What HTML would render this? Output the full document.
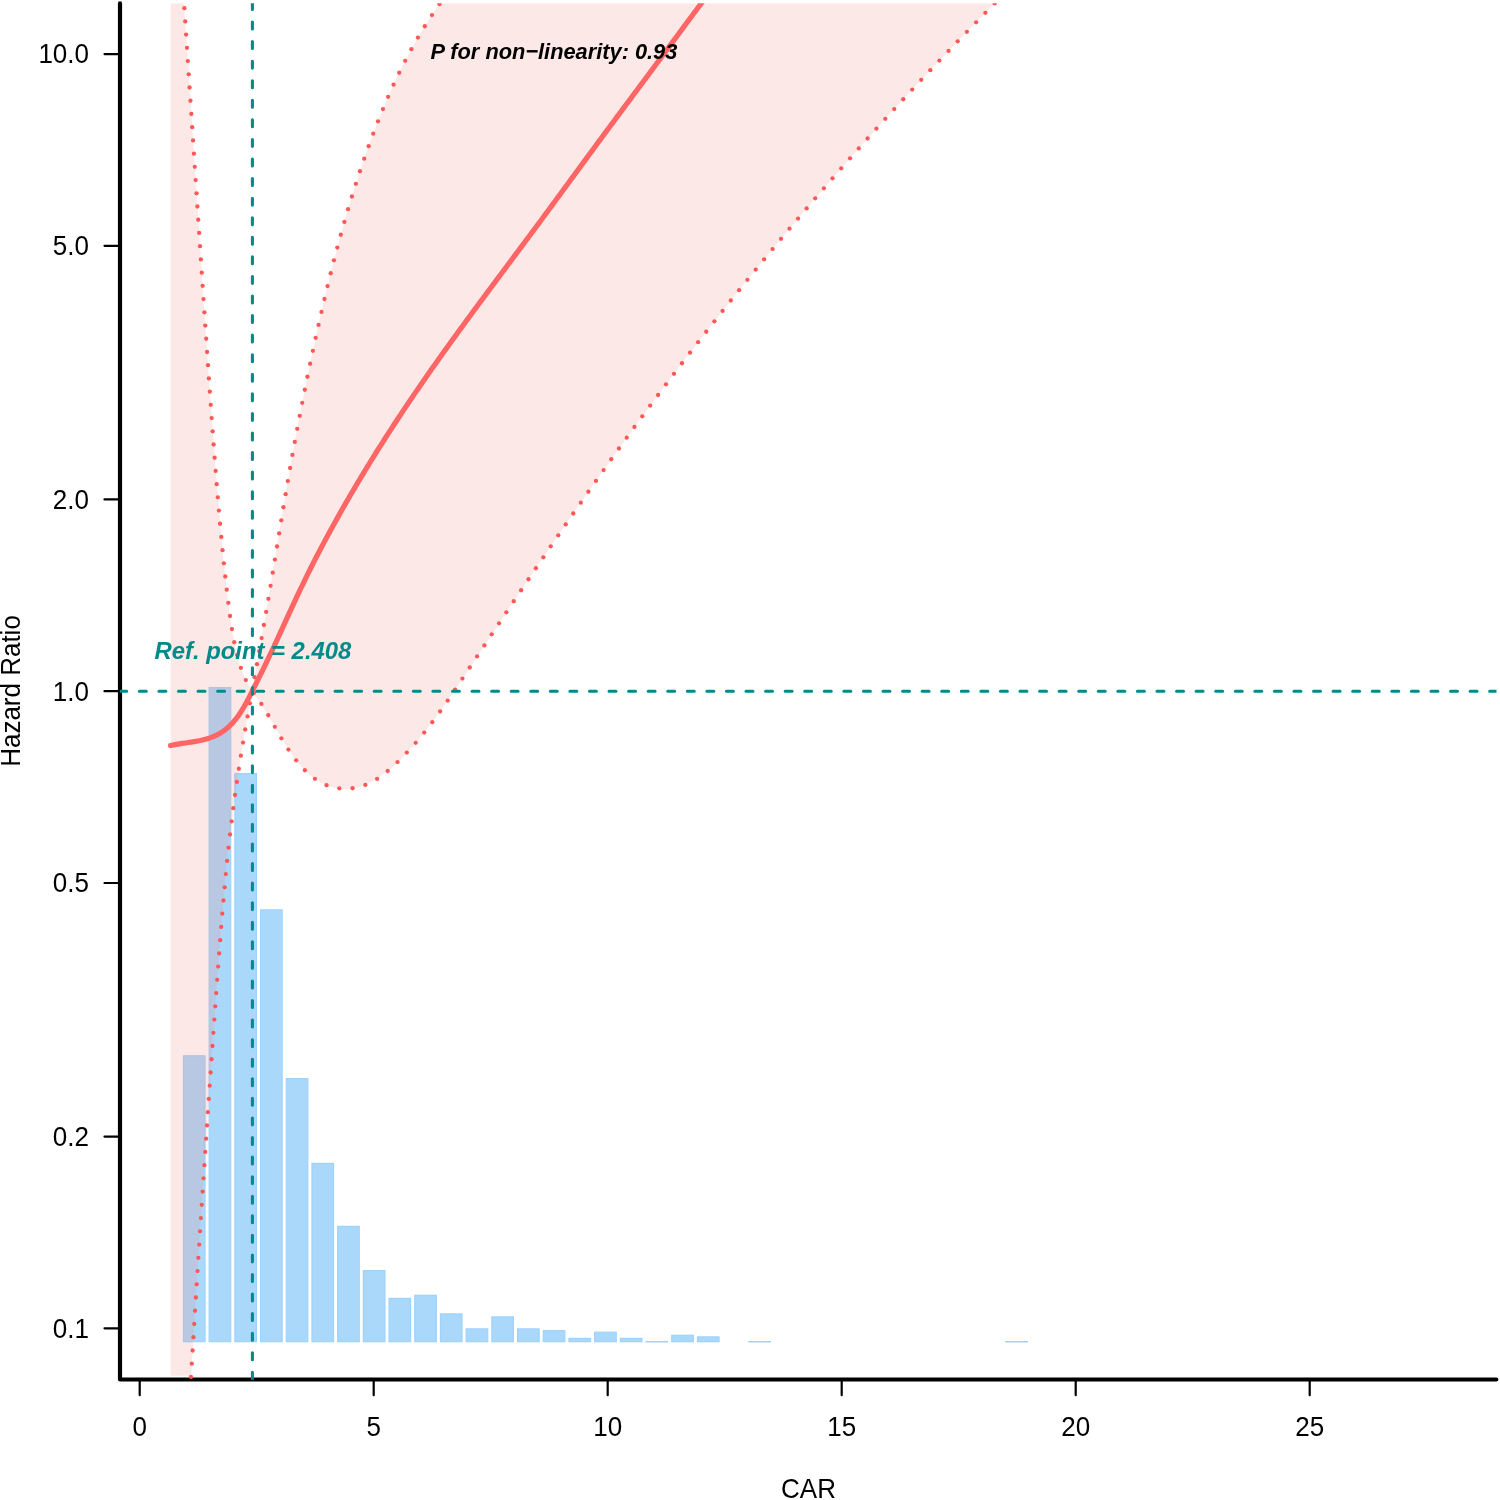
<!DOCTYPE html>
<html><head><meta charset="utf-8"><style>
html,body{margin:0;padding:0;background:#fff;}
svg{display:block;}
text{font-family:"Liberation Sans",Arial,sans-serif;}
</style></head><body>
<svg width="1500" height="1500" viewBox="0 0 1500 1500">
<defs><clipPath id="pr"><rect x="120" y="3.2" width="1376.5" height="1376.5"/></clipPath><clipPath id="pk"><rect x="120" y="3.2" width="1376.5" height="1372.5"/></clipPath></defs>
<rect width="1500" height="1500" fill="#fff"/>
<g stroke="#000" stroke-linecap="round" fill="none">
<path d="M120,3.3 V1379.5 H1496.3" stroke-width="4.2" stroke-linejoin="round"/>
<g stroke-width="2.2">
<line x1="139.70" y1="1379.5" x2="139.70" y2="1395.2"/>
<line x1="373.70" y1="1379.5" x2="373.70" y2="1395.2"/>
<line x1="607.70" y1="1379.5" x2="607.70" y2="1395.2"/>
<line x1="841.70" y1="1379.5" x2="841.70" y2="1395.2"/>
<line x1="1075.70" y1="1379.5" x2="1075.70" y2="1395.2"/>
<line x1="1309.70" y1="1379.5" x2="1309.70" y2="1395.2"/>
<line x1="104.5" y1="54.05" x2="120" y2="54.05"/>
<line x1="104.5" y1="245.85" x2="120" y2="245.85"/>
<line x1="104.5" y1="499.40" x2="120" y2="499.40"/>
<line x1="104.5" y1="691.20" x2="120" y2="691.20"/>
<line x1="104.5" y1="883.00" x2="120" y2="883.00"/>
<line x1="104.5" y1="1136.55" x2="120" y2="1136.55"/>
<line x1="104.5" y1="1328.35" x2="120" y2="1328.35"/>
</g>
</g>
<g clip-path="url(#pr)">
<g fill="#aad8fb" stroke="#9fd2fb" stroke-width="1.2">
<rect x="183.47" y="1055.80" width="21.55" height="285.90"/>
<rect x="209.17" y="687.60" width="21.55" height="654.10"/>
<rect x="234.87" y="773.60" width="21.55" height="568.10"/>
<rect x="260.57" y="909.90" width="21.55" height="431.80"/>
<rect x="286.27" y="1078.60" width="21.55" height="263.10"/>
<rect x="311.97" y="1163.40" width="21.55" height="178.30"/>
<rect x="337.67" y="1226.40" width="21.55" height="115.30"/>
<rect x="363.37" y="1270.60" width="21.55" height="71.10"/>
<rect x="389.07" y="1298.40" width="21.55" height="43.30"/>
<rect x="414.77" y="1295.30" width="21.55" height="46.40"/>
<rect x="440.47" y="1313.90" width="21.55" height="27.80"/>
<rect x="466.17" y="1328.90" width="21.55" height="12.80"/>
<rect x="491.87" y="1316.90" width="21.55" height="24.80"/>
<rect x="517.57" y="1328.90" width="21.55" height="12.80"/>
<rect x="543.27" y="1330.70" width="21.55" height="11.00"/>
<rect x="568.97" y="1338.40" width="21.55" height="3.30"/>
<rect x="594.67" y="1332.20" width="21.55" height="9.50"/>
<rect x="620.37" y="1338.40" width="21.55" height="3.30"/>
<rect x="646.07" y="1341.60" width="21.55" height="0.30"/>
<rect x="671.77" y="1335.30" width="21.55" height="6.40"/>
<rect x="697.47" y="1336.90" width="21.55" height="4.80"/>
<rect x="748.87" y="1341.60" width="21.55" height="0.30"/>
<rect x="1005.87" y="1341.60" width="21.55" height="0.30"/>
</g>
<path clip-path="url(#pk)" d="M170.70,-100.00 L183.37,-100.00 L183.37,-4.97 L183.58,-1.97 L183.79,1.03 L184.00,4.03 L184.21,7.03 L184.42,10.03 L184.63,13.03 L184.84,16.03 L185.04,19.03 L185.25,22.03 L185.46,25.03 L185.66,28.03 L185.87,31.03 L186.08,34.03 L186.28,37.03 L186.49,40.03 L186.69,43.04 L186.89,46.04 L187.10,49.04 L187.30,52.04 L187.50,55.04 L187.70,58.04 L187.91,61.04 L188.11,64.04 L188.31,67.05 L188.51,70.05 L188.71,73.05 L188.91,76.05 L189.11,79.05 L189.31,82.05 L189.51,85.06 L189.70,88.06 L189.90,91.06 L190.10,94.06 L190.30,97.06 L190.49,100.06 L190.69,103.07 L190.89,106.07 L191.09,109.07 L191.28,112.07 L191.48,115.07 L191.67,118.08 L191.87,121.08 L192.07,124.08 L192.26,127.08 L192.46,130.09 L192.65,133.09 L192.85,136.09 L193.04,139.09 L193.23,142.09 L193.43,145.10 L193.62,148.10 L193.82,151.10 L194.01,154.10 L194.21,157.11 L194.40,160.11 L194.59,163.11 L194.79,166.11 L194.98,169.12 L195.17,172.12 L195.37,175.12 L195.56,178.12 L195.75,181.13 L195.95,184.13 L196.14,187.13 L196.34,190.13 L196.53,193.14 L196.72,196.14 L196.92,199.14 L197.11,202.14 L197.30,205.15 L197.50,208.15 L197.69,211.15 L197.88,214.16 L198.08,217.16 L198.27,220.16 L198.47,223.16 L198.66,226.17 L198.86,229.17 L199.05,232.17 L199.25,235.17 L199.44,238.18 L199.63,241.18 L199.83,244.18 L200.03,247.18 L200.22,250.19 L200.42,253.19 L200.61,256.19 L200.81,259.19 L201.01,262.20 L201.20,265.20 L201.40,268.20 L201.60,271.20 L201.79,274.20 L201.99,277.21 L202.19,280.21 L202.39,283.21 L202.59,286.21 L202.78,289.22 L202.98,292.22 L203.18,295.22 L203.38,298.22 L203.58,301.22 L203.78,304.23 L203.99,307.23 L204.19,310.23 L204.39,313.23 L204.59,316.23 L204.79,319.24 L205.00,322.24 L205.20,325.24 L205.40,328.24 L205.61,331.24 L205.81,334.24 L206.02,337.25 L206.22,340.25 L206.43,343.25 L206.63,346.25 L206.84,349.25 L207.05,352.25 L207.26,355.25 L207.47,358.26 L207.68,361.26 L207.88,364.26 L208.09,367.26 L208.31,370.26 L208.52,373.26 L208.73,376.26 L208.94,379.26 L209.15,382.26 L209.37,385.26 L209.58,388.26 L209.80,391.27 L210.01,394.27 L210.23,397.27 L210.45,400.27 L210.66,403.27 L210.88,406.27 L211.10,409.27 L211.32,412.27 L211.54,415.27 L211.76,418.27 L211.98,421.27 L212.21,424.27 L212.43,427.27 L212.65,430.27 L212.88,433.27 L213.10,436.26 L213.33,439.26 L213.56,442.26 L213.78,445.26 L214.01,448.26 L214.24,451.26 L214.47,454.26 L214.70,457.26 L214.93,460.26 L215.17,463.26 L215.40,466.25 L215.63,469.25 L215.87,472.25 L216.11,475.25 L216.34,478.25 L216.58,481.25 L216.82,484.24 L217.06,487.24 L217.30,490.24 L217.55,493.24 L217.79,496.23 L218.04,499.23 L218.29,502.23 L218.54,505.23 L218.79,508.22 L219.04,511.22 L219.30,514.22 L219.55,517.22 L219.81,520.21 L220.08,523.21 L220.34,526.21 L220.61,529.20 L220.88,532.20 L221.15,535.20 L221.42,538.19 L221.70,541.19 L221.98,544.19 L222.26,547.18 L222.55,550.18 L222.84,553.17 L223.13,556.17 L223.43,559.17 L223.72,562.16 L224.03,565.16 L224.33,568.15 L224.64,571.15 L224.95,574.15 L225.27,577.14 L225.59,580.14 L225.91,583.13 L226.24,586.13 L226.57,589.12 L226.91,592.12 L227.25,595.11 L227.60,598.11 L227.96,601.10 L228.32,604.09 L228.70,607.08 L229.08,610.07 L229.48,613.06 L229.89,616.04 L230.32,619.02 L230.76,622.00 L231.23,624.97 L231.71,627.94 L232.21,630.91 L232.73,633.87 L233.28,636.82 L233.85,639.77 L234.44,642.72 L235.06,645.66 L235.71,648.59 L236.39,651.52 L237.10,654.44 L237.84,657.35 L238.62,660.25 L239.44,663.14 L240.32,666.00 L241.26,668.84 L242.27,671.66 L243.35,674.44 L244.52,677.18 L245.78,679.88 L247.13,682.53 L248.57,685.15 L250.09,687.73 L251.67,690.28 L253.30,692.81 L254.96,695.32 L256.64,697.83 L258.33,700.33 L260.01,702.84 L261.68,705.36 L263.32,707.89 L264.94,710.44 L266.54,712.99 L268.12,715.55 L269.68,718.12 L271.23,720.70 L272.78,723.28 L274.31,725.86 L275.84,728.45 L277.37,731.03 L278.89,733.62 L280.42,736.20 L281.95,738.77 L283.49,741.34 L285.04,743.89 L286.62,746.44 L288.22,748.96 L289.86,751.47 L291.53,753.96 L293.26,756.41 L295.04,758.84 L296.87,761.23 L298.78,763.59 L300.75,765.89 L302.79,768.15 L304.91,770.33 L307.10,772.45 L309.38,774.48 L311.74,776.43 L314.18,778.27 L316.72,780.01 L319.34,781.63 L322.03,783.13 L324.78,784.48 L327.59,785.68 L330.43,786.72 L333.31,787.59 L336.20,788.27 L339.11,788.76 L342.02,789.04 L344.91,789.11 L347.81,789.00 L350.68,788.70 L353.55,788.23 L356.40,787.60 L359.23,786.81 L362.03,785.87 L364.81,784.80 L367.57,783.60 L370.29,782.28 L372.97,780.85 L375.62,779.33 L378.23,777.71 L380.80,776.02 L383.32,774.25 L385.79,772.42 L388.22,770.54 L390.59,768.62 L392.91,766.65 L395.18,764.64 L397.40,762.59 L399.59,760.50 L401.73,758.38 L403.83,756.23 L405.90,754.05 L407.94,751.84 L409.94,749.60 L411.92,747.34 L413.87,745.06 L415.79,742.76 L417.70,740.44 L419.58,738.10 L421.45,735.76 L423.31,733.40 L425.15,731.03 L426.98,728.65 L428.81,726.26 L430.62,723.87 L432.42,721.47 L434.22,719.06 L436.00,716.65 L437.78,714.23 L439.55,711.80 L441.31,709.36 L443.06,706.92 L444.80,704.48 L446.54,702.02 L448.27,699.57 L449.99,697.10 L451.71,694.64 L453.42,692.16 L455.13,689.69 L456.83,687.20 L458.52,684.72 L460.21,682.23 L461.89,679.74 L463.58,677.24 L465.25,674.74 L466.92,672.24 L468.59,669.73 L470.26,667.23 L471.92,664.72 L473.58,662.21 L475.24,659.69 L476.90,657.18 L478.55,654.66 L480.21,652.14 L481.86,649.63 L483.51,647.11 L485.16,644.59 L486.81,642.07 L488.46,639.55 L490.11,637.03 L491.76,634.52 L493.41,632.00 L495.06,629.48 L496.72,626.97 L498.37,624.45 L500.03,621.94 L501.68,619.42 L503.34,616.91 L505.00,614.40 L506.66,611.89 L508.32,609.38 L509.98,606.87 L511.64,604.36 L513.31,601.86 L514.97,599.35 L516.64,596.85 L518.30,594.34 L519.97,591.84 L521.64,589.33 L523.31,586.83 L524.98,584.33 L526.66,581.83 L528.33,579.33 L530.01,576.83 L531.68,574.34 L533.36,571.84 L535.04,569.34 L536.72,566.85 L538.40,564.36 L540.08,561.86 L541.77,559.37 L543.45,556.88 L545.14,554.39 L546.83,551.90 L548.52,549.41 L550.21,546.93 L551.90,544.44 L553.60,541.95 L555.29,539.47 L556.99,536.99 L558.69,534.51 L560.39,532.02 L562.09,529.54 L563.79,527.06 L565.50,524.59 L567.21,522.11 L568.91,519.63 L570.62,517.16 L572.33,514.68 L574.05,512.21 L575.76,509.74 L577.48,507.27 L579.20,504.80 L580.91,502.33 L582.64,499.86 L584.36,497.40 L586.08,494.93 L587.81,492.47 L589.53,490.00 L591.26,487.54 L592.99,485.08 L594.73,482.62 L596.46,480.16 L598.20,477.70 L599.93,475.25 L601.67,472.79 L603.41,470.34 L605.15,467.88 L606.90,465.43 L608.64,462.98 L610.39,460.53 L612.14,458.08 L613.89,455.64 L615.64,453.19 L617.40,450.75 L619.15,448.30 L620.91,445.86 L622.67,443.42 L624.43,440.98 L626.19,438.54 L627.96,436.11 L629.72,433.67 L631.49,431.23 L633.26,428.80 L635.03,426.37 L636.81,423.94 L638.58,421.51 L640.36,419.08 L642.14,416.65 L643.92,414.23 L645.70,411.81 L647.49,409.38 L649.27,406.96 L651.06,404.54 L652.85,402.12 L654.64,399.71 L656.43,397.29 L658.23,394.88 L660.03,392.46 L661.83,390.05 L663.63,387.64 L665.43,385.23 L667.23,382.82 L669.04,380.42 L670.85,378.01 L672.66,375.61 L674.47,373.21 L676.29,370.81 L678.10,368.41 L679.92,366.01 L681.74,363.62 L683.56,361.22 L685.39,358.83 L687.21,356.44 L689.04,354.05 L690.87,351.66 L692.70,349.27 L694.54,346.89 L696.37,344.50 L698.21,342.12 L700.05,339.74 L701.89,337.36 L703.73,334.98 L705.58,332.61 L707.43,330.23 L709.28,327.86 L711.13,325.49 L712.98,323.12 L714.84,320.75 L716.69,318.38 L718.55,316.02 L720.41,313.65 L722.28,311.29 L724.14,308.93 L726.01,306.57 L727.88,304.22 L729.75,301.86 L731.62,299.51 L733.50,297.15 L735.38,294.80 L737.26,292.45 L739.14,290.10 L741.02,287.76 L742.90,285.41 L744.79,283.07 L746.68,280.73 L748.57,278.39 L750.46,276.05 L752.36,273.71 L754.25,271.38 L756.15,269.04 L758.05,266.71 L759.95,264.38 L761.86,262.05 L763.77,259.72 L765.67,257.40 L767.58,255.07 L769.50,252.75 L771.41,250.43 L773.32,248.11 L775.24,245.79 L777.16,243.47 L779.08,241.16 L781.01,238.85 L782.93,236.53 L784.86,234.22 L786.79,231.91 L788.72,229.61 L790.65,227.30 L792.59,225.00 L794.52,222.70 L796.46,220.40 L798.40,218.10 L800.34,215.80 L802.29,213.50 L804.23,211.21 L806.18,208.92 L808.13,206.63 L810.08,204.34 L812.04,202.05 L813.99,199.76 L815.95,197.48 L817.91,195.19 L819.87,192.91 L821.83,190.63 L823.80,188.35 L825.76,186.08 L827.73,183.80 L829.70,181.53 L831.68,179.26 L833.65,176.99 L835.63,174.72 L837.60,172.45 L839.58,170.18 L841.56,167.92 L843.55,165.66 L845.53,163.40 L847.52,161.14 L849.51,158.88 L851.50,156.63 L853.49,154.37 L855.49,152.12 L857.48,149.87 L859.48,147.62 L861.48,145.37 L863.48,143.12 L865.48,140.88 L867.49,138.64 L869.50,136.40 L871.51,134.16 L873.52,131.92 L875.53,129.68 L877.54,127.45 L879.56,125.21 L881.58,122.98 L883.60,120.75 L885.62,118.52 L887.64,116.30 L889.67,114.07 L891.69,111.85 L893.72,109.63 L895.75,107.41 L897.78,105.19 L899.82,102.97 L901.85,100.76 L903.89,98.54 L905.93,96.33 L907.97,94.12 L910.02,91.91 L912.06,89.71 L914.11,87.50 L916.16,85.30 L918.21,83.10 L920.26,80.89 L922.31,78.70 L924.37,76.50 L926.42,74.30 L928.48,72.11 L930.54,69.92 L932.61,67.73 L934.67,65.54 L936.74,63.35 L938.80,61.17 L940.87,58.98 L942.94,56.80 L945.02,54.62 L947.09,52.44 L949.17,50.26 L951.25,48.09 L953.33,45.91 L955.41,43.74 L957.49,41.57 L959.58,39.40 L961.66,37.23 L963.75,35.07 L965.84,32.90 L967.93,30.74 L970.03,28.58 L972.12,26.42 L974.22,24.26 L976.32,22.11 L978.42,19.95 L980.52,17.80 L982.63,15.65 L984.73,13.50 L986.84,11.35 L988.95,9.21 L991.06,7.06 L993.17,4.92 L995.29,2.78 L997.40,0.64 L999.52,-1.50 L1001.64,-3.63 L1003.76,-5.76 L1003.76,-100.00 L446.99,-100.00 L446.99,-6.11 L445.17,-3.69 L443.37,-1.25 L441.59,1.19 L439.82,3.65 L438.08,6.12 L436.36,8.60 L434.65,11.09 L432.96,13.59 L431.29,16.10 L429.64,18.62 L428.01,21.15 L426.39,23.69 L424.79,26.24 L423.21,28.80 L421.65,31.37 L420.10,33.95 L418.57,36.54 L417.06,39.13 L415.56,41.74 L414.08,44.35 L412.61,46.98 L411.16,49.61 L409.73,52.25 L408.31,54.89 L406.91,57.55 L405.52,60.21 L404.14,62.88 L402.79,65.56 L401.44,68.25 L400.11,70.94 L398.79,73.64 L397.49,76.35 L396.20,79.06 L394.92,81.78 L393.66,84.50 L392.41,87.24 L391.17,89.98 L389.94,92.72 L388.73,95.47 L387.53,98.23 L386.34,100.99 L385.16,103.75 L384.00,106.53 L382.84,109.30 L381.70,112.08 L380.57,114.87 L379.44,117.66 L378.33,120.46 L377.23,123.26 L376.14,126.06 L375.06,128.87 L373.99,131.68 L372.93,134.49 L371.88,137.31 L370.83,140.13 L369.80,142.96 L368.77,145.79 L367.76,148.62 L366.75,151.45 L365.75,154.29 L364.76,157.13 L363.77,159.97 L362.80,162.82 L361.83,165.67 L360.87,168.52 L359.92,171.37 L358.97,174.22 L358.04,177.08 L357.11,179.94 L356.19,182.81 L355.27,185.67 L354.37,188.54 L353.47,191.41 L352.58,194.28 L351.69,197.16 L350.81,200.03 L349.94,202.91 L349.08,205.79 L348.22,208.68 L347.37,211.56 L346.52,214.45 L345.69,217.34 L344.85,220.23 L344.03,223.12 L343.21,226.02 L342.40,228.91 L341.59,231.81 L340.79,234.71 L339.99,237.61 L339.20,240.52 L338.42,243.42 L337.64,246.33 L336.87,249.24 L336.10,252.15 L335.34,255.06 L334.58,257.97 L333.83,260.89 L333.09,263.80 L332.34,266.72 L331.61,269.64 L330.88,272.56 L330.15,275.48 L329.43,278.40 L328.71,281.33 L328.00,284.25 L327.29,287.18 L326.58,290.10 L325.88,293.03 L325.19,295.96 L324.50,298.89 L323.81,301.82 L323.13,304.75 L322.45,307.68 L321.77,310.62 L321.10,313.55 L320.43,316.48 L319.76,319.42 L319.10,322.35 L318.44,325.29 L317.79,328.23 L317.13,331.17 L316.48,334.10 L315.84,337.04 L315.20,339.98 L314.56,342.92 L313.92,345.86 L313.29,348.80 L312.66,351.74 L312.03,354.69 L311.40,357.63 L310.78,360.57 L310.17,363.51 L309.55,366.46 L308.94,369.40 L308.33,372.35 L307.72,375.29 L307.12,378.24 L306.52,381.19 L305.92,384.13 L305.33,387.08 L304.74,390.03 L304.15,392.98 L303.56,395.93 L302.98,398.88 L302.40,401.83 L301.82,404.78 L301.25,407.73 L300.67,410.68 L300.10,413.64 L299.54,416.59 L298.97,419.54 L298.41,422.50 L297.85,425.45 L297.30,428.41 L296.75,431.36 L296.19,434.32 L295.65,437.28 L295.10,440.23 L294.56,443.19 L294.02,446.15 L293.48,449.11 L292.95,452.07 L292.41,455.03 L291.88,457.99 L291.36,460.95 L290.83,463.91 L290.31,466.87 L289.79,469.83 L289.27,472.79 L288.75,475.76 L288.24,478.72 L287.73,481.68 L287.22,484.65 L286.72,487.61 L286.21,490.58 L285.71,493.54 L285.21,496.51 L284.71,499.48 L284.22,502.44 L283.73,505.41 L283.23,508.38 L282.74,511.35 L282.26,514.32 L281.77,517.28 L281.28,520.25 L280.80,523.22 L280.31,526.19 L279.83,529.16 L279.35,532.13 L278.87,535.10 L278.38,538.07 L277.90,541.04 L277.42,544.01 L276.94,546.98 L276.46,549.95 L275.98,552.92 L275.49,555.89 L275.01,558.86 L274.53,561.83 L274.04,564.80 L273.56,567.77 L273.07,570.74 L272.58,573.71 L272.09,576.68 L271.60,579.65 L271.11,582.61 L270.62,585.58 L270.12,588.55 L269.62,591.52 L269.12,594.48 L268.62,597.45 L268.12,600.42 L267.61,603.38 L267.10,606.35 L266.60,609.31 L266.09,612.28 L265.57,615.24 L265.06,618.21 L264.55,621.17 L264.03,624.13 L263.51,627.10 L262.99,630.06 L262.47,633.02 L261.95,635.99 L261.43,638.95 L260.91,641.91 L260.38,644.87 L259.86,647.84 L259.33,650.80 L258.80,653.76 L258.27,656.72 L257.74,659.68 L257.21,662.64 L256.68,665.61 L256.15,668.57 L255.62,671.53 L255.08,674.49 L254.55,677.45 L254.01,680.41 L253.48,683.37 L252.95,686.33 L252.41,689.29 L251.88,692.25 L251.34,695.21 L250.81,698.17 L250.28,701.13 L249.74,704.09 L249.21,707.06 L248.69,710.02 L248.16,712.98 L247.63,715.94 L247.11,718.90 L246.59,721.86 L246.07,724.83 L245.56,727.79 L245.05,730.76 L244.54,733.72 L244.03,736.68 L243.53,739.65 L243.04,742.62 L242.54,745.58 L242.05,748.55 L241.57,751.52 L241.09,754.49 L240.61,757.46 L240.14,760.43 L239.68,763.40 L239.22,766.37 L238.76,769.34 L238.31,772.31 L237.87,775.29 L237.43,778.26 L236.99,781.24 L236.56,784.21 L236.14,787.19 L235.72,790.17 L235.30,793.15 L234.89,796.12 L234.48,799.10 L234.08,802.08 L233.69,805.06 L233.29,808.05 L232.91,811.03 L232.53,814.01 L232.15,816.99 L231.78,819.98 L231.41,822.96 L231.05,825.95 L230.69,828.94 L230.34,831.92 L229.99,834.91 L229.65,837.90 L229.31,840.89 L228.97,843.87 L228.64,846.86 L228.32,849.85 L228.00,852.85 L227.68,855.84 L227.37,858.83 L227.07,861.82 L226.76,864.81 L226.47,867.81 L226.17,870.80 L225.88,873.80 L225.59,876.79 L225.31,879.79 L225.03,882.78 L224.75,885.78 L224.48,888.77 L224.21,891.77 L223.94,894.77 L223.68,897.77 L223.42,900.76 L223.16,903.76 L222.90,906.76 L222.65,909.76 L222.40,912.76 L222.15,915.75 L221.90,918.75 L221.66,921.75 L221.41,924.75 L221.17,927.75 L220.93,930.75 L220.69,933.75 L220.46,936.75 L220.22,939.75 L219.99,942.75 L219.76,945.75 L219.52,948.75 L219.29,951.75 L219.06,954.75 L218.84,957.75 L218.61,960.75 L218.38,963.75 L218.16,966.75 L217.93,969.75 L217.71,972.75 L217.49,975.75 L217.26,978.75 L217.04,981.75 L216.82,984.75 L216.60,987.75 L216.38,990.75 L216.17,993.75 L215.95,996.75 L215.73,999.75 L215.52,1002.75 L215.30,1005.75 L215.09,1008.76 L214.87,1011.76 L214.66,1014.76 L214.44,1017.76 L214.23,1020.76 L214.02,1023.76 L213.81,1026.76 L213.60,1029.76 L213.38,1032.76 L213.17,1035.76 L212.96,1038.76 L212.75,1041.76 L212.54,1044.76 L212.33,1047.77 L212.12,1050.77 L211.92,1053.77 L211.71,1056.77 L211.50,1059.77 L211.29,1062.77 L211.08,1065.77 L210.88,1068.77 L210.67,1071.77 L210.46,1074.77 L210.26,1077.78 L210.05,1080.78 L209.84,1083.78 L209.64,1086.78 L209.43,1089.78 L209.23,1092.78 L209.03,1095.78 L208.82,1098.78 L208.62,1101.78 L208.41,1104.79 L208.21,1107.79 L208.01,1110.79 L207.80,1113.79 L207.60,1116.79 L207.40,1119.79 L207.20,1122.79 L207.00,1125.80 L206.79,1128.80 L206.59,1131.80 L206.39,1134.80 L206.19,1137.80 L205.99,1140.80 L205.79,1143.80 L205.59,1146.81 L205.39,1149.81 L205.19,1152.81 L205.00,1155.81 L204.80,1158.81 L204.60,1161.81 L204.40,1164.82 L204.20,1167.82 L204.01,1170.82 L203.81,1173.82 L203.61,1176.82 L203.41,1179.82 L203.22,1182.83 L203.02,1185.83 L202.83,1188.83 L202.63,1191.83 L202.43,1194.83 L202.24,1197.84 L202.04,1200.84 L201.85,1203.84 L201.65,1206.84 L201.46,1209.84 L201.27,1212.84 L201.07,1215.85 L200.88,1218.85 L200.69,1221.85 L200.49,1224.85 L200.30,1227.86 L200.11,1230.86 L199.91,1233.86 L199.72,1236.86 L199.53,1239.86 L199.34,1242.87 L199.15,1245.87 L198.96,1248.87 L198.76,1251.87 L198.57,1254.87 L198.38,1257.88 L198.19,1260.88 L198.00,1263.88 L197.81,1266.88 L197.62,1269.89 L197.43,1272.89 L197.24,1275.89 L197.05,1278.89 L196.87,1281.89 L196.68,1284.90 L196.49,1287.90 L196.30,1290.90 L196.11,1293.90 L195.92,1296.91 L195.73,1299.91 L195.55,1302.91 L195.36,1305.91 L195.17,1308.92 L194.99,1311.92 L194.80,1314.92 L194.61,1317.92 L194.42,1320.93 L194.24,1323.93 L194.05,1326.93 L193.87,1329.93 L193.68,1332.94 L193.49,1335.94 L193.31,1338.94 L193.12,1341.95 L192.94,1344.95 L192.75,1347.95 L192.57,1350.95 L192.38,1353.96 L192.20,1356.96 L192.01,1359.96 L191.83,1362.96 L191.65,1365.97 L191.46,1368.97 L191.28,1371.97 L191.10,1374.98 L190.91,1377.98 L190.73,1380.98 L190.55,1383.98 L190.36,1386.99 L190.18,1389.99 L190.18,1500.00 L170.70,1500.00 Z" fill="#f08c80" fill-opacity="0.2" fill-rule="nonzero"/>

<g fill="#ff5757" stroke="none">
<circle cx="184.37" cy="8.16" r="2.15"/>
<circle cx="185.24" cy="21.39" r="2.15"/>
<circle cx="186.11" cy="34.61" r="2.15"/>
<circle cx="186.99" cy="47.84" r="2.15"/>
<circle cx="187.86" cy="61.06" r="2.15"/>
<circle cx="188.72" cy="74.28" r="2.15"/>
<circle cx="189.59" cy="87.51" r="2.15"/>
<circle cx="190.46" cy="100.73" r="2.15"/>
<circle cx="191.33" cy="113.95" r="2.15"/>
<circle cx="192.19" cy="127.18" r="2.15"/>
<circle cx="193.06" cy="140.40" r="2.15"/>
<circle cx="193.93" cy="153.63" r="2.15"/>
<circle cx="194.79" cy="166.85" r="2.15"/>
<circle cx="195.66" cy="180.07" r="2.15"/>
<circle cx="196.53" cy="193.30" r="2.15"/>
<circle cx="197.40" cy="206.52" r="2.15"/>
<circle cx="198.27" cy="219.75" r="2.15"/>
<circle cx="199.14" cy="232.97" r="2.15"/>
<circle cx="200.02" cy="246.19" r="2.15"/>
<circle cx="200.90" cy="259.42" r="2.15"/>
<circle cx="201.77" cy="272.64" r="2.15"/>
<circle cx="202.65" cy="285.86" r="2.15"/>
<circle cx="203.54" cy="299.09" r="2.15"/>
<circle cx="204.42" cy="312.31" r="2.15"/>
<circle cx="205.31" cy="325.53" r="2.15"/>
<circle cx="206.20" cy="338.75" r="2.15"/>
<circle cx="207.10" cy="351.98" r="2.15"/>
<circle cx="208.00" cy="365.20" r="2.15"/>
<circle cx="208.90" cy="378.42" r="2.15"/>
<circle cx="209.82" cy="391.64" r="2.15"/>
<circle cx="210.75" cy="404.86" r="2.15"/>
<circle cx="211.69" cy="418.08" r="2.15"/>
<circle cx="212.65" cy="431.30" r="2.15"/>
<circle cx="213.63" cy="444.51" r="2.15"/>
<circle cx="214.63" cy="457.73" r="2.15"/>
<circle cx="215.66" cy="470.94" r="2.15"/>
<circle cx="216.71" cy="484.15" r="2.15"/>
<circle cx="217.80" cy="497.36" r="2.15"/>
<circle cx="218.92" cy="510.56" r="2.15"/>
<circle cx="220.08" cy="523.76" r="2.15"/>
<circle cx="221.28" cy="536.96" r="2.15"/>
<circle cx="222.53" cy="550.15" r="2.15"/>
<circle cx="223.86" cy="563.34" r="2.15"/>
<circle cx="225.26" cy="576.52" r="2.15"/>
<circle cx="226.75" cy="589.69" r="2.15"/>
<circle cx="228.35" cy="602.84" r="2.15"/>
<circle cx="230.06" cy="615.98" r="2.15"/>
<circle cx="231.95" cy="629.10" r="2.15"/>
<circle cx="234.22" cy="642.15" r="2.15"/>
<circle cx="237.13" cy="655.08" r="2.15"/>
<circle cx="240.92" cy="667.78" r="2.15"/>
<circle cx="245.83" cy="680.08" r="2.15"/>
<circle cx="253.81" cy="693.07" r="2.15"/>
<circle cx="261.38" cy="703.95" r="2.15"/>
<circle cx="268.26" cy="715.27" r="2.15"/>
<circle cx="274.81" cy="726.79" r="2.15"/>
<circle cx="281.39" cy="738.29" r="2.15"/>
<circle cx="288.39" cy="749.54" r="2.15"/>
<circle cx="296.13" cy="760.29" r="2.15"/>
<circle cx="304.88" cy="770.24" r="2.15"/>
<circle cx="314.93" cy="778.85" r="2.15"/>
<circle cx="326.50" cy="785.25" r="2.15"/>
<circle cx="339.33" cy="788.40" r="2.15"/>
<circle cx="352.55" cy="788.23" r="2.15"/>
<circle cx="365.36" cy="784.96" r="2.15"/>
<circle cx="377.12" cy="778.90" r="2.15"/>
<circle cx="387.73" cy="770.98" r="2.15"/>
<circle cx="397.51" cy="762.04" r="2.15"/>
<circle cx="406.81" cy="752.60" r="2.15"/>
<circle cx="415.71" cy="742.79" r="2.15"/>
<circle cx="424.20" cy="732.62" r="2.15"/>
<circle cx="432.33" cy="722.15" r="2.15"/>
<circle cx="440.13" cy="711.44" r="2.15"/>
<circle cx="447.70" cy="700.56" r="2.15"/>
<circle cx="455.10" cy="689.57" r="2.15"/>
<circle cx="462.43" cy="678.53" r="2.15"/>
<circle cx="469.75" cy="667.48" r="2.15"/>
<circle cx="477.06" cy="656.43" r="2.15"/>
<circle cx="484.38" cy="645.39" r="2.15"/>
<circle cx="491.71" cy="634.35" r="2.15"/>
<circle cx="499.05" cy="623.31" r="2.15"/>
<circle cx="506.40" cy="612.28" r="2.15"/>
<circle cx="513.76" cy="601.26" r="2.15"/>
<circle cx="521.13" cy="590.25" r="2.15"/>
<circle cx="528.51" cy="579.25" r="2.15"/>
<circle cx="535.92" cy="568.26" r="2.15"/>
<circle cx="543.34" cy="557.28" r="2.15"/>
<circle cx="550.78" cy="546.32" r="2.15"/>
<circle cx="558.25" cy="535.37" r="2.15"/>
<circle cx="565.74" cy="524.44" r="2.15"/>
<circle cx="573.25" cy="513.52" r="2.15"/>
<circle cx="580.80" cy="502.63" r="2.15"/>
<circle cx="588.37" cy="491.75" r="2.15"/>
<circle cx="595.97" cy="480.90" r="2.15"/>
<circle cx="603.60" cy="470.07" r="2.15"/>
<circle cx="611.27" cy="459.26" r="2.15"/>
<circle cx="618.97" cy="448.48" r="2.15"/>
<circle cx="626.72" cy="437.72" r="2.15"/>
<circle cx="634.50" cy="426.99" r="2.15"/>
<circle cx="642.31" cy="416.30" r="2.15"/>
<circle cx="650.17" cy="405.62" r="2.15"/>
<circle cx="658.07" cy="394.98" r="2.15"/>
<circle cx="666.00" cy="384.37" r="2.15"/>
<circle cx="673.97" cy="373.78" r="2.15"/>
<circle cx="681.98" cy="363.23" r="2.15"/>
<circle cx="690.03" cy="352.70" r="2.15"/>
<circle cx="698.12" cy="342.20" r="2.15"/>
<circle cx="706.24" cy="331.73" r="2.15"/>
<circle cx="714.40" cy="321.29" r="2.15"/>
<circle cx="722.60" cy="310.88" r="2.15"/>
<circle cx="730.84" cy="300.50" r="2.15"/>
<circle cx="739.11" cy="290.15" r="2.15"/>
<circle cx="747.42" cy="279.83" r="2.15"/>
<circle cx="755.77" cy="269.54" r="2.15"/>
<circle cx="764.15" cy="259.28" r="2.15"/>
<circle cx="772.58" cy="249.04" r="2.15"/>
<circle cx="781.03" cy="238.84" r="2.15"/>
<circle cx="789.53" cy="228.67" r="2.15"/>
<circle cx="798.06" cy="218.53" r="2.15"/>
<circle cx="806.63" cy="208.42" r="2.15"/>
<circle cx="815.23" cy="198.34" r="2.15"/>
<circle cx="823.87" cy="188.29" r="2.15"/>
<circle cx="832.54" cy="178.28" r="2.15"/>
<circle cx="841.25" cy="168.29" r="2.15"/>
<circle cx="850.00" cy="158.34" r="2.15"/>
<circle cx="858.78" cy="148.41" r="2.15"/>
<circle cx="867.60" cy="138.52" r="2.15"/>
<circle cx="876.45" cy="128.66" r="2.15"/>
<circle cx="885.34" cy="118.83" r="2.15"/>
<circle cx="894.26" cy="109.03" r="2.15"/>
<circle cx="903.22" cy="99.27" r="2.15"/>
<circle cx="912.21" cy="89.53" r="2.15"/>
<circle cx="921.24" cy="79.83" r="2.15"/>
<circle cx="930.30" cy="70.16" r="2.15"/>
<circle cx="939.40" cy="60.53" r="2.15"/>
<circle cx="948.53" cy="50.92" r="2.15"/>
<circle cx="957.69" cy="41.35" r="2.15"/>
<circle cx="966.89" cy="31.81" r="2.15"/>
<circle cx="976.12" cy="22.31" r="2.15"/>
<circle cx="985.39" cy="12.83" r="2.15"/>
<circle cx="994.69" cy="3.39" r="2.15"/>
<circle cx="190.97" cy="1376.96" r="2.15"/>
<circle cx="191.78" cy="1363.72" r="2.15"/>
<circle cx="192.60" cy="1350.48" r="2.15"/>
<circle cx="193.41" cy="1337.24" r="2.15"/>
<circle cx="194.23" cy="1324.00" r="2.15"/>
<circle cx="195.06" cy="1310.76" r="2.15"/>
<circle cx="195.88" cy="1297.52" r="2.15"/>
<circle cx="196.72" cy="1284.28" r="2.15"/>
<circle cx="197.55" cy="1271.04" r="2.15"/>
<circle cx="198.39" cy="1257.80" r="2.15"/>
<circle cx="199.23" cy="1244.56" r="2.15"/>
<circle cx="200.08" cy="1231.32" r="2.15"/>
<circle cx="200.93" cy="1218.08" r="2.15"/>
<circle cx="201.78" cy="1204.84" r="2.15"/>
<circle cx="202.64" cy="1191.60" r="2.15"/>
<circle cx="203.51" cy="1178.37" r="2.15"/>
<circle cx="204.38" cy="1165.13" r="2.15"/>
<circle cx="205.26" cy="1151.89" r="2.15"/>
<circle cx="206.14" cy="1138.66" r="2.15"/>
<circle cx="207.02" cy="1125.42" r="2.15"/>
<circle cx="207.91" cy="1112.18" r="2.15"/>
<circle cx="208.81" cy="1098.95" r="2.15"/>
<circle cx="209.71" cy="1085.71" r="2.15"/>
<circle cx="210.62" cy="1072.48" r="2.15"/>
<circle cx="211.54" cy="1059.24" r="2.15"/>
<circle cx="212.46" cy="1046.01" r="2.15"/>
<circle cx="213.38" cy="1032.78" r="2.15"/>
<circle cx="214.32" cy="1019.54" r="2.15"/>
<circle cx="215.26" cy="1006.31" r="2.15"/>
<circle cx="216.21" cy="993.08" r="2.15"/>
<circle cx="217.18" cy="979.85" r="2.15"/>
<circle cx="218.17" cy="966.62" r="2.15"/>
<circle cx="219.17" cy="953.39" r="2.15"/>
<circle cx="220.19" cy="940.16" r="2.15"/>
<circle cx="221.24" cy="926.94" r="2.15"/>
<circle cx="222.32" cy="913.72" r="2.15"/>
<circle cx="223.44" cy="900.50" r="2.15"/>
<circle cx="224.62" cy="887.29" r="2.15"/>
<circle cx="225.85" cy="874.08" r="2.15"/>
<circle cx="227.16" cy="860.88" r="2.15"/>
<circle cx="228.55" cy="847.68" r="2.15"/>
<circle cx="230.04" cy="834.50" r="2.15"/>
<circle cx="231.61" cy="821.33" r="2.15"/>
<circle cx="233.28" cy="808.17" r="2.15"/>
<circle cx="235.04" cy="795.02" r="2.15"/>
<circle cx="236.90" cy="781.89" r="2.15"/>
<circle cx="238.85" cy="768.76" r="2.15"/>
<circle cx="240.90" cy="755.66" r="2.15"/>
<circle cx="243.04" cy="742.57" r="2.15"/>
<circle cx="245.27" cy="729.49" r="2.15"/>
<circle cx="247.55" cy="716.42" r="2.15"/>
<circle cx="249.88" cy="703.36" r="2.15"/>
<circle cx="252.23" cy="690.30" r="2.15"/>
<circle cx="254.59" cy="677.25" r="2.15"/>
<circle cx="256.93" cy="664.19" r="2.15"/>
<circle cx="259.27" cy="651.13" r="2.15"/>
<circle cx="261.59" cy="638.07" r="2.15"/>
<circle cx="263.88" cy="625.01" r="2.15"/>
<circle cx="266.15" cy="611.94" r="2.15"/>
<circle cx="268.38" cy="598.86" r="2.15"/>
<circle cx="270.58" cy="585.78" r="2.15"/>
<circle cx="272.75" cy="572.69" r="2.15"/>
<circle cx="274.89" cy="559.60" r="2.15"/>
<circle cx="277.02" cy="546.50" r="2.15"/>
<circle cx="279.14" cy="533.41" r="2.15"/>
<circle cx="281.27" cy="520.32" r="2.15"/>
<circle cx="283.42" cy="507.23" r="2.15"/>
<circle cx="285.61" cy="494.14" r="2.15"/>
<circle cx="287.84" cy="481.06" r="2.15"/>
<circle cx="290.11" cy="467.99" r="2.15"/>
<circle cx="292.43" cy="454.93" r="2.15"/>
<circle cx="294.80" cy="441.88" r="2.15"/>
<circle cx="297.22" cy="428.84" r="2.15"/>
<circle cx="299.69" cy="415.80" r="2.15"/>
<circle cx="302.21" cy="402.78" r="2.15"/>
<circle cx="304.79" cy="389.77" r="2.15"/>
<circle cx="307.42" cy="376.76" r="2.15"/>
<circle cx="310.11" cy="363.77" r="2.15"/>
<circle cx="312.86" cy="350.79" r="2.15"/>
<circle cx="315.67" cy="337.83" r="2.15"/>
<circle cx="318.53" cy="324.88" r="2.15"/>
<circle cx="321.47" cy="311.94" r="2.15"/>
<circle cx="324.47" cy="299.02" r="2.15"/>
<circle cx="327.55" cy="286.11" r="2.15"/>
<circle cx="330.71" cy="273.23" r="2.15"/>
<circle cx="333.96" cy="260.37" r="2.15"/>
<circle cx="337.32" cy="247.54" r="2.15"/>
<circle cx="340.78" cy="234.73" r="2.15"/>
<circle cx="344.36" cy="221.96" r="2.15"/>
<circle cx="348.06" cy="209.22" r="2.15"/>
<circle cx="351.89" cy="196.51" r="2.15"/>
<circle cx="355.85" cy="183.85" r="2.15"/>
<circle cx="359.96" cy="171.24" r="2.15"/>
<circle cx="364.22" cy="158.68" r="2.15"/>
<circle cx="368.64" cy="146.17" r="2.15"/>
<circle cx="373.22" cy="133.72" r="2.15"/>
<circle cx="377.98" cy="121.34" r="2.15"/>
<circle cx="382.95" cy="109.04" r="2.15"/>
<circle cx="388.14" cy="96.83" r="2.15"/>
<circle cx="393.56" cy="84.72" r="2.15"/>
<circle cx="399.23" cy="72.73" r="2.15"/>
<circle cx="405.18" cy="60.87" r="2.15"/>
<circle cx="411.41" cy="49.16" r="2.15"/>
<circle cx="417.94" cy="37.62" r="2.15"/>
<circle cx="424.79" cy="26.25" r="2.15"/>
<circle cx="431.96" cy="15.09" r="2.15"/>
<circle cx="439.47" cy="4.16" r="2.15"/>
</g>
<path d="M170.55,745.57 L173.41,744.92 L176.32,744.36 L179.27,743.85 L182.25,743.39 L185.25,742.95 L188.27,742.52 L191.30,742.07 L194.33,741.59 L197.34,741.07 L200.34,740.47 L203.32,739.80 L206.25,739.03 L209.14,738.15 L211.97,737.14 L214.73,735.98 L217.42,734.69 L220.02,733.24 L222.54,731.66 L224.96,729.93 L227.28,728.06 L229.49,726.06 L231.61,723.93 L233.63,721.70 L235.56,719.37 L237.41,716.97 L239.17,714.49 L240.86,711.96 L242.47,709.38 L244.03,706.77 L245.52,704.13 L246.97,701.46 L248.39,698.77 L249.78,696.07 L251.14,693.37 L252.50,690.66 L253.86,687.95 L255.20,685.25 L256.55,682.55 L257.89,679.84 L259.23,677.14 L260.56,674.44 L261.89,671.74 L263.21,669.04 L264.53,666.33 L265.84,663.62 L267.15,660.91 L268.44,658.20 L269.74,655.48 L271.02,652.75 L272.30,650.03 L273.58,647.30 L274.85,644.56 L276.12,641.83 L277.39,639.09 L278.65,636.35 L279.91,633.61 L281.17,630.87 L282.43,628.12 L283.68,625.37 L284.94,622.63 L286.20,619.88 L287.45,617.14 L288.71,614.39 L289.97,611.64 L291.24,608.90 L292.50,606.15 L293.77,603.41 L295.04,600.67 L296.32,597.93 L297.60,595.20 L298.89,592.46 L300.18,589.73 L301.48,587.00 L302.79,584.28 L304.10,581.56 L305.42,578.84 L306.75,576.13 L308.08,573.42 L309.43,570.72 L310.78,568.01 L312.14,565.32 L313.50,562.63 L314.87,559.94 L316.25,557.25 L317.64,554.57 L319.04,551.89 L320.44,549.22 L321.84,546.55 L323.25,543.88 L324.67,541.21 L326.10,538.55 L327.53,535.89 L328.97,533.24 L330.41,530.59 L331.86,527.94 L333.31,525.30 L334.77,522.65 L336.23,520.02 L337.71,517.38 L339.18,514.75 L340.66,512.12 L342.15,509.49 L343.65,506.87 L345.14,504.25 L346.65,501.64 L348.16,499.02 L349.67,496.41 L351.19,493.81 L352.72,491.20 L354.25,488.60 L355.78,486.00 L357.32,483.41 L358.87,480.82 L360.42,478.23 L361.98,475.64 L363.54,473.06 L365.10,470.48 L366.67,467.90 L368.25,465.33 L369.83,462.75 L371.42,460.19 L373.01,457.62 L374.60,455.06 L376.20,452.50 L377.80,449.94 L379.41,447.39 L381.03,444.84 L382.64,442.29 L384.27,439.74 L385.89,437.20 L387.52,434.66 L389.16,432.12 L390.80,429.59 L392.44,427.06 L394.09,424.53 L395.74,422.00 L397.40,419.48 L399.06,416.96 L400.73,414.44 L402.40,411.93 L404.07,409.41 L405.75,406.90 L407.43,404.40 L409.11,401.89 L410.80,399.39 L412.49,396.89 L414.19,394.39 L415.89,391.90 L417.60,389.41 L419.30,386.92 L421.02,384.43 L422.73,381.95 L424.45,379.47 L426.17,376.99 L427.90,374.51 L429.63,372.04 L431.36,369.57 L433.09,367.10 L434.83,364.63 L436.57,362.17 L438.32,359.70 L440.07,357.24 L441.82,354.78 L443.57,352.33 L445.33,349.87 L447.08,347.42 L448.85,344.97 L450.61,342.52 L452.38,340.07 L454.14,337.63 L455.92,335.18 L457.69,332.74 L459.46,330.30 L461.24,327.86 L463.02,325.42 L464.80,322.98 L466.58,320.55 L468.37,318.11 L470.16,315.68 L471.94,313.25 L473.73,310.82 L475.52,308.39 L477.32,305.96 L479.11,303.53 L480.91,301.10 L482.70,298.68 L484.50,296.25 L486.30,293.83 L488.10,291.40 L489.90,288.98 L491.70,286.56 L493.50,284.13 L495.30,281.71 L497.11,279.29 L498.91,276.87 L500.71,274.45 L502.52,272.03 L504.32,269.61 L506.13,267.19 L507.93,264.77 L509.74,262.35 L511.54,259.93 L513.35,257.51 L515.15,255.09 L516.96,252.67 L518.76,250.25 L520.56,247.83 L522.37,245.41 L524.17,242.99 L525.97,240.57 L527.77,238.14 L529.58,235.72 L531.38,233.30 L533.18,230.87 L534.97,228.45 L536.77,226.03 L538.57,223.60 L540.36,221.17 L542.16,218.74 L543.95,216.32 L545.74,213.89 L547.53,211.46 L549.32,209.03 L551.11,206.59 L552.90,204.16 L554.68,201.73 L556.47,199.30 L558.25,196.86 L560.04,194.43 L561.82,191.99 L563.61,189.56 L565.39,187.13 L567.17,184.69 L568.96,182.25 L570.74,179.82 L572.52,177.38 L574.30,174.95 L576.09,172.51 L577.87,170.08 L579.65,167.64 L581.43,165.21 L583.22,162.77 L585.00,160.34 L586.79,157.90 L588.57,155.47 L590.36,153.04 L592.14,150.60 L593.93,148.17 L595.72,145.74 L597.51,143.31 L599.30,140.88 L601.09,138.45 L602.88,136.02 L604.67,133.59 L606.47,131.17 L608.26,128.74 L610.06,126.31 L611.86,123.89 L613.65,121.46 L615.45,119.04 L617.25,116.61 L619.05,114.19 L620.85,111.77 L622.65,109.34 L624.45,106.92 L626.25,104.50 L628.05,102.08 L629.86,99.65 L631.66,97.23 L633.46,94.81 L635.26,92.39 L637.06,89.97 L638.86,87.55 L640.67,85.12 L642.47,82.70 L644.27,80.28 L646.07,77.86 L647.87,75.43 L649.67,73.01 L651.47,70.59 L653.27,68.17 L655.07,65.74 L656.87,63.32 L658.67,60.89 L660.46,58.47 L662.26,56.04 L664.06,53.62 L665.85,51.19 L667.65,48.76 L669.44,46.34 L671.23,43.91 L673.03,41.48 L674.82,39.05 L676.62,36.63 L678.41,34.20 L680.20,31.77 L682.00,29.34 L683.79,26.92 L685.59,24.49 L687.38,22.06 L689.18,19.64 L690.97,17.21 L692.77,14.79 L694.57,12.36 L696.37,9.94 L698.17,7.51 L699.97,5.09 L701.77,2.67 L703.57,0.25 L705.38,-2.17 L707.18,-4.59 L708.99,-7.01" fill="none" stroke="#ff6565" stroke-width="5.2" stroke-linecap="round" stroke-linejoin="round"/>
<g stroke="#008b8b" stroke-width="3.1" stroke-linecap="round" stroke-dasharray="6.9 12.67" fill="none">
<path d="M119.8,691.2 H1497"/>
<path d="M252.4,2.48 V1379.7"/>
</g>
<g font-weight="bold" font-style="italic">
<text transform="translate(154.5,659) scale(1,1.04)" font-size="23.85" fill="#008b8b">Ref. point = 2.408</text>
<text transform="translate(430.5,59.2) scale(1,1.04)" font-size="21.8" fill="#000">P for non&#8722;linearity: 0.93</text>
</g>
</g>

<g font-size="26" fill="#000">
<text transform="translate(139.70,1436) scale(1,1.04)" text-anchor="middle">0</text>
<text transform="translate(373.70,1436) scale(1,1.04)" text-anchor="middle">5</text>
<text transform="translate(607.70,1436) scale(1,1.04)" text-anchor="middle">10</text>
<text transform="translate(841.70,1436) scale(1,1.04)" text-anchor="middle">15</text>
<text transform="translate(1075.70,1436) scale(1,1.04)" text-anchor="middle">20</text>
<text transform="translate(1309.70,1436) scale(1,1.04)" text-anchor="middle">25</text>
<text transform="translate(89,63.45) scale(1,1.04)" text-anchor="end">10.0</text>
<text transform="translate(89,255.25) scale(1,1.04)" text-anchor="end">5.0</text>
<text transform="translate(89,508.80) scale(1,1.04)" text-anchor="end">2.0</text>
<text transform="translate(89,700.60) scale(1,1.04)" text-anchor="end">1.0</text>
<text transform="translate(89,892.40) scale(1,1.04)" text-anchor="end">0.5</text>
<text transform="translate(89,1145.95) scale(1,1.04)" text-anchor="end">0.2</text>
<text transform="translate(89,1337.75) scale(1,1.04)" text-anchor="end">0.1</text>
<text transform="translate(808.5,1498) scale(1,1.04)" text-anchor="middle">CAR</text>
<text transform="translate(19.8,691) rotate(-90) scale(1,1.04)" text-anchor="middle">Hazard Ratio</text>
</g>
</svg>
</body></html>
